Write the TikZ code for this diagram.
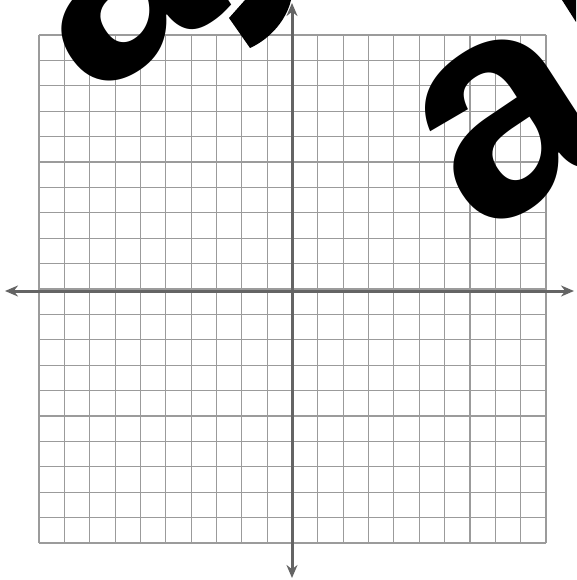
\documentclass[tikz,border=0pt]{standalone}
\usepackage{fontspec}
\setmainfont{Liberation Sans}
\usetikzlibrary{arrows.meta}
\definecolor{gridgray}{RGB}{155,155,155}
\definecolor{axisgray}{RGB}{100,100,100}
\tikzset{
  gridline/.style={draw=gridgray, line width=1.1pt},
  axisline/.style={draw=axisgray, line width=3pt, {Stealth[length=13pt,width=11pt]}-{Stealth[length=13pt,width=11pt]}},
  biga/.style={font=\bfseries\fontsize{#1}{#1}\selectfont, inner sep=0pt, text=black},
}
\begin{document}
\begin{tikzpicture}[x=1pt,y=-1pt]
\useasboundingbox (0,0) rectangle (576,580);
\clip (0,0) rectangle (576,580);
\fill[white] (0,0) rectangle (576,580);
% grid
\foreach \i in {0,...,20}{
  \draw[gridline] ({39+\i*25.35},35) -- ({39+\i*25.35},543);
  \draw[gridline] (39,{35+\i*25.4}) -- (546,{35+\i*25.4});
}
% big letters
\node[biga=306pt, rotate=33] (a1) at (508,124) {a};
\node[biga=306pt, rotate=33] (a2) at (116,-14) {a};
\fill[black] (245,0) -- (229,18) -- (250,48) .. controls (272,38) and (287,18) .. (291,0) -- cycle;
\fill[black] (562,0) -- (576,0) -- (576,22) -- cycle;
% axes
\coordinate (xl) at (5,291);
\coordinate (xr) at (574,291);
\coordinate (yt) at (292,3);
\coordinate (yb) at (292,578);
\draw[axisline] (xl) -- (xr);
\draw[axisline] (yt) -- (yb);
\end{tikzpicture}
\end{document}
